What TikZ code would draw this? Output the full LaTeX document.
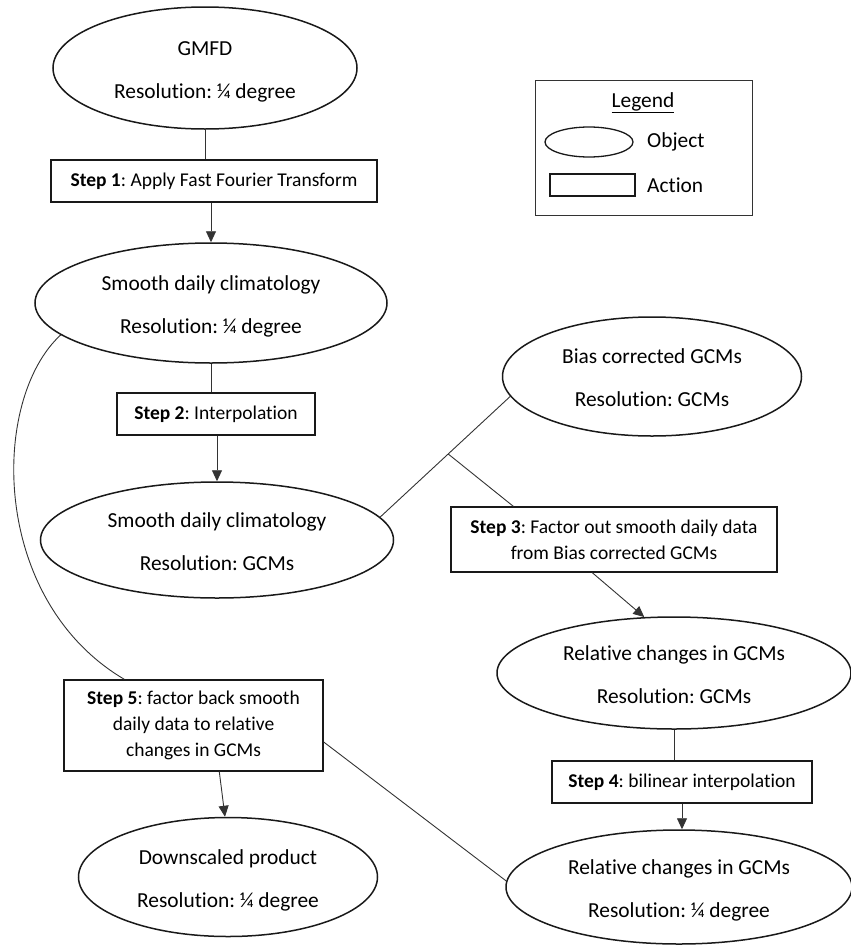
\documentclass[tikz,border=0pt]{standalone}
\usepackage{fontspec}
\setmainfont{Carlito}[Ligatures=NoCommon]
\usetikzlibrary{shapes.geometric,arrows.meta,calc}
\frenchspacing
\begin{document}
\begin{tikzpicture}[x=1pt,y=-1pt,
 obj/.style={draw=black!90, line width=1.5pt, ellipse, inner sep=0pt, align=center, text height=62pt, text depth=2pt, font=\fontsize{21.4}{43}\selectfont},
 act/.style={draw=black!90, line width=1.4pt, rectangle, inner sep=0pt, align=center, font=\fontsize{19.5}{26}\selectfont},
 conn/.style={draw=black!80, line width=0.9pt},
 arr/.style={conn, -{Triangle[length=11pt,width=10pt]}},
 legtxt/.style={font=\fontsize{21.4}{26}\selectfont, inner sep=0pt}]
\useasboundingbox (0,0) rectangle (851,945);

% objects
\node[obj, minimum width=304pt, minimum height=122pt] (gmfd) at (205,68) {GMFD\\Resolution: ¼ degree};
\node[obj, minimum width=352pt, minimum height=120pt] (sm1) at (211,303) {Smooth daily climatology\\Resolution: ¼ degree};
\node[obj, minimum width=353pt, minimum height=116pt] (sm2) at (217,540) {Smooth daily climatology\\Resolution: GCMs};
\node[obj, minimum width=299pt, minimum height=119pt] (bias) at (652,376.5) {Bias corrected GCMs\\Resolution: GCMs};
\node[obj, minimum width=354pt, minimum height=112pt] (rel1) at (674,673) {Relative changes in GCMs\\Resolution: GCMs};
\node[obj, minimum width=346pt, minimum height=114pt] (rel2) at (679,887) {Relative changes in GCMs\\Resolution: ¼ degree};
\node[obj, minimum width=299pt, minimum height=119pt] (down) at (228,877) {Downscaled product\\Resolution: ¼ degree};

% actions
\node[act, minimum width=326pt, minimum height=42pt] (s1) at (214,181) {\textbf{Step 1}: Apply Fast Fourier Transform};
\node[act, minimum width=198pt, minimum height=42pt] (s2) at (216,414) {\textbf{Step 2}: Interpolation};
\node[act, minimum width=326pt, minimum height=65pt] (s3) at (614,539.5) {\textbf{Step 3}: Factor out smooth daily data\\from Bias corrected GCMs};
\node[act, minimum width=260pt, minimum height=42pt] (s4) at (682,782) {\textbf{Step 4}: bilinear interpolation};
\node[act, minimum width=259pt, minimum height=91pt] (s5) at (193.5,725.5) {\textbf{Step 5}: factor back smooth\\daily data to relative\\changes in GCMs};

% legend
\node[draw=black!80, line width=1pt, minimum width=217pt, minimum height=135pt, inner sep=0pt] (legend) at (643.5,147.5) {};
\node[legtxt, anchor=base] (legtitle) at (643,107) {\underline{Legend}};
\node[draw=black!90, line width=1.3pt, ellipse, minimum width=88pt, minimum height=30pt, inner sep=0pt] (legobj) at (589,142) {};
\node[draw=black!90, line width=1.3pt, rectangle, minimum width=85pt, minimum height=22pt, inner sep=0pt] (legact) at (592.5,185) {};
\node[legtxt, anchor=west] (legobjtxt) at (647,142) {Object};
\node[legtxt, anchor=west] (legacttxt) at (647,185) {Action};

% connectors
\draw[conn] (gmfd.south) -- (gmfd.south |- s1.north);
\draw[arr] (s1.south -| sm1.north) -- (sm1.north);
\draw[conn] (sm1.south) -- (sm1.south |- s2.north);
\draw[arr] (s2.south -| sm2.north) -- (sm2.north);
\draw[conn] (sm2.8) -- (bias.188);
\coordinate (j) at ($(sm2.8)!0.523!(bias.188)$);
\draw[conn] (j) -- ($(s3.north west)+(63,0)$);
\draw[arr] ($(s3.south west)+(142,0)$) -- (rel1.118);
\draw[conn] (rel1.south) -- (rel1.south |- s4.north);
\draw[arr] (s4.south) -- (s4.south |- rel2.north);
\draw[arr] ($(s5.south west)+(156,0)$) -- ($(down.north)+(-3,0)$);
\draw[conn] ($(s5.east)+(0,16.5)$) -- (rel2.178);
\draw[conn] (sm1.192) .. controls (-10,400) and (-10,600) .. ($(s5.north west)+(61,0)$);
\end{tikzpicture}
\end{document}
